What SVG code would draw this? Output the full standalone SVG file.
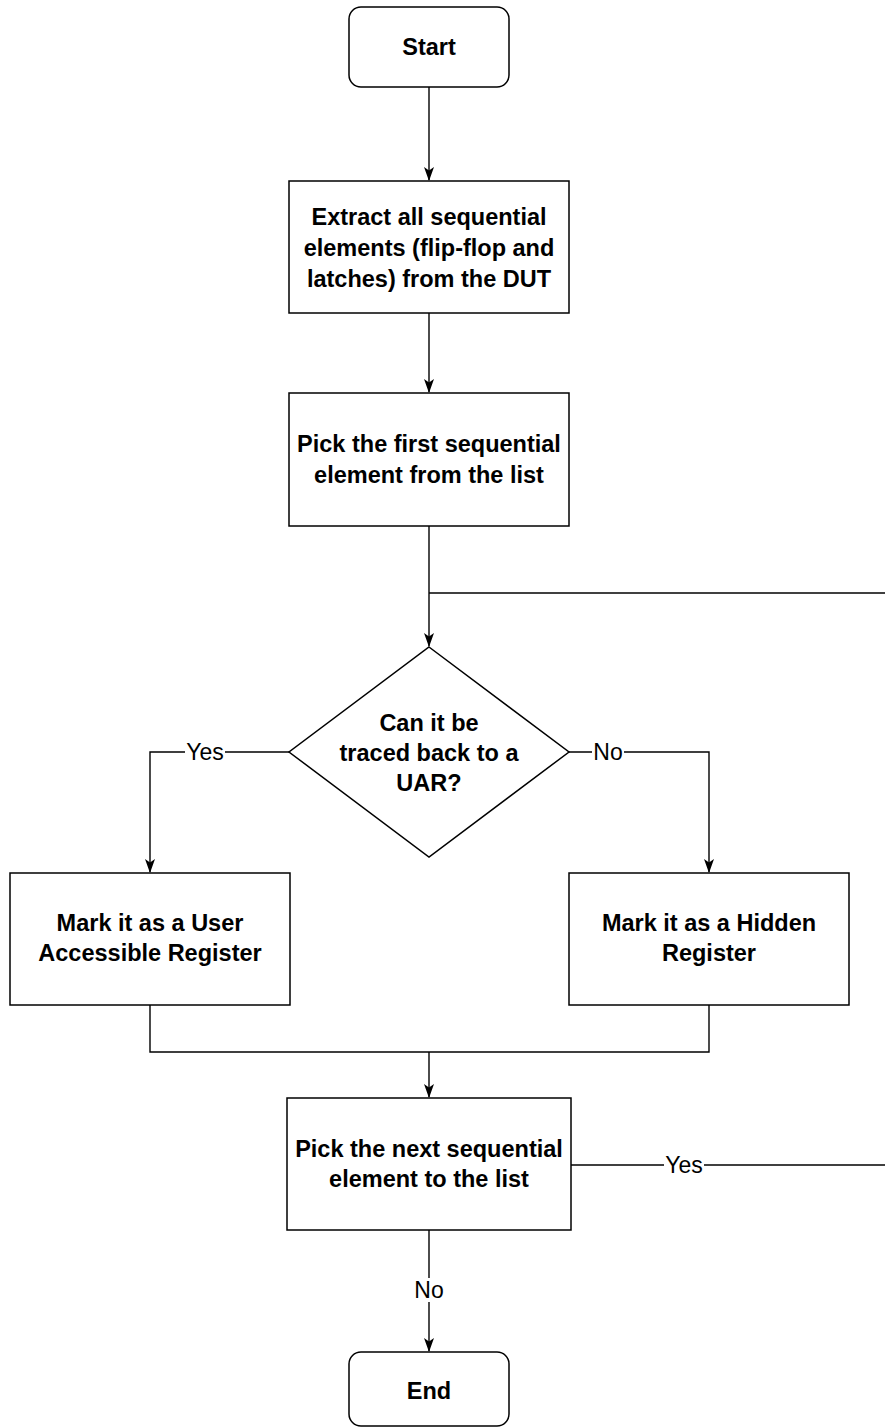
<svg xmlns="http://www.w3.org/2000/svg" width="885" height="1428" viewBox="0 0 885 1428">
  <style>
    .box { fill: #ffffff; stroke: #000000; stroke-width: 1.5; }
    .t { font-family: "Liberation Sans", Arial, Helvetica, sans-serif; font-size: 23.5px; font-weight: bold; fill: #000000; text-anchor: middle; }
    .lbl { font-family: "Liberation Sans", Arial, Helvetica, sans-serif; font-size: 23px; fill: #000000; text-anchor: middle; }
    .edge { fill: none; stroke: #000000; stroke-width: 1.4; }
    .lblbg { fill: #ffffff; }
  </style>
  <defs>
    <marker id="arrow" viewBox="0 0 14 12" refX="13" refY="6" markerWidth="14" markerHeight="12" markerUnits="userSpaceOnUse" orient="auto">
      <path d="M0,1 L14,6 L0,11 L3.5,6 Z" fill="#000000"/>
    </marker>
  </defs>

  <!-- connectors -->
  <g id="connectors">
    <path class="edge" d="M429,87 L429,180" marker-end="url(#arrow)"/>
    <path class="edge" d="M429,313 L429,392" marker-end="url(#arrow)"/>
    <path class="edge" d="M429,526 L429,646" marker-end="url(#arrow)"/>
    <path class="edge" d="M429,593 L885,593"/>
    <path class="edge" d="M289,752 L150,752 L150,872" marker-end="url(#arrow)"/>
    <path class="edge" d="M569,752 L709,752 L709,872" marker-end="url(#arrow)"/>
    <path class="edge" d="M150,1005 L150,1052 L709,1052 L709,1005"/>
    <path class="edge" d="M429,1052 L429,1097" marker-end="url(#arrow)"/>
    <path class="edge" d="M571,1165 L885,1165"/>
    <path class="edge" d="M429,1230 L429,1351" marker-end="url(#arrow)"/>

    <!-- edge labels -->
    <rect class="lblbg" x="185" y="740" width="40" height="24"/>
    <text class="lbl" x="205" y="760">Yes</text>
    <rect class="lblbg" x="592" y="740" width="32" height="24"/>
    <text class="lbl" x="608" y="760">No</text>
    <rect class="lblbg" x="664" y="1153" width="40" height="24"/>
    <text class="lbl" x="684" y="1173">Yes</text>
    <rect class="lblbg" x="413" y="1278" width="32" height="24"/>
    <text class="lbl" x="429" y="1298">No</text>
  </g>

  <!-- nodes -->
  <g id="start">
    <rect class="box" x="349" y="7" width="160" height="80" rx="12" ry="12"/>
    <text class="t" x="429" y="55">Start</text>
  </g>

  <g id="extract">
    <rect class="box" x="289" y="181" width="280" height="132"/>
    <text class="t" x="429" y="225">Extract all sequential</text>
    <text class="t" x="429" y="256">elements (flip-flop and</text>
    <text class="t" x="429" y="287">latches) from the DUT</text>
  </g>

  <g id="pick-first">
    <rect class="box" x="289" y="393" width="280" height="133"/>
    <text class="t" x="429" y="452">Pick the first sequential</text>
    <text class="t" x="429" y="483">element from the list</text>
  </g>

  <g id="decision">
    <polygon class="box" points="429,647 569,752 429,857 289,752"/>
    <text class="t" x="429" y="731">Can it be</text>
    <text class="t" x="429" y="761">traced back to a</text>
    <text class="t" x="429" y="791">UAR?</text>
  </g>

  <g id="user-register">
    <rect class="box" x="10" y="873" width="280" height="132"/>
    <text class="t" x="150" y="931">Mark it as a User</text>
    <text class="t" x="150" y="961">Accessible Register</text>
  </g>

  <g id="hidden-register">
    <rect class="box" x="569" y="873" width="280" height="132"/>
    <text class="t" x="709" y="931">Mark it as a Hidden</text>
    <text class="t" x="709" y="961">Register</text>
  </g>

  <g id="pick-next">
    <rect class="box" x="287" y="1098" width="284" height="132"/>
    <text class="t" x="429" y="1157">Pick the next sequential</text>
    <text class="t" x="429" y="1187">element to the list</text>
  </g>

  <g id="end">
    <rect class="box" x="349" y="1352" width="160" height="74" rx="12" ry="12"/>
    <text class="t" x="429" y="1399">End</text>
  </g>
</svg>
